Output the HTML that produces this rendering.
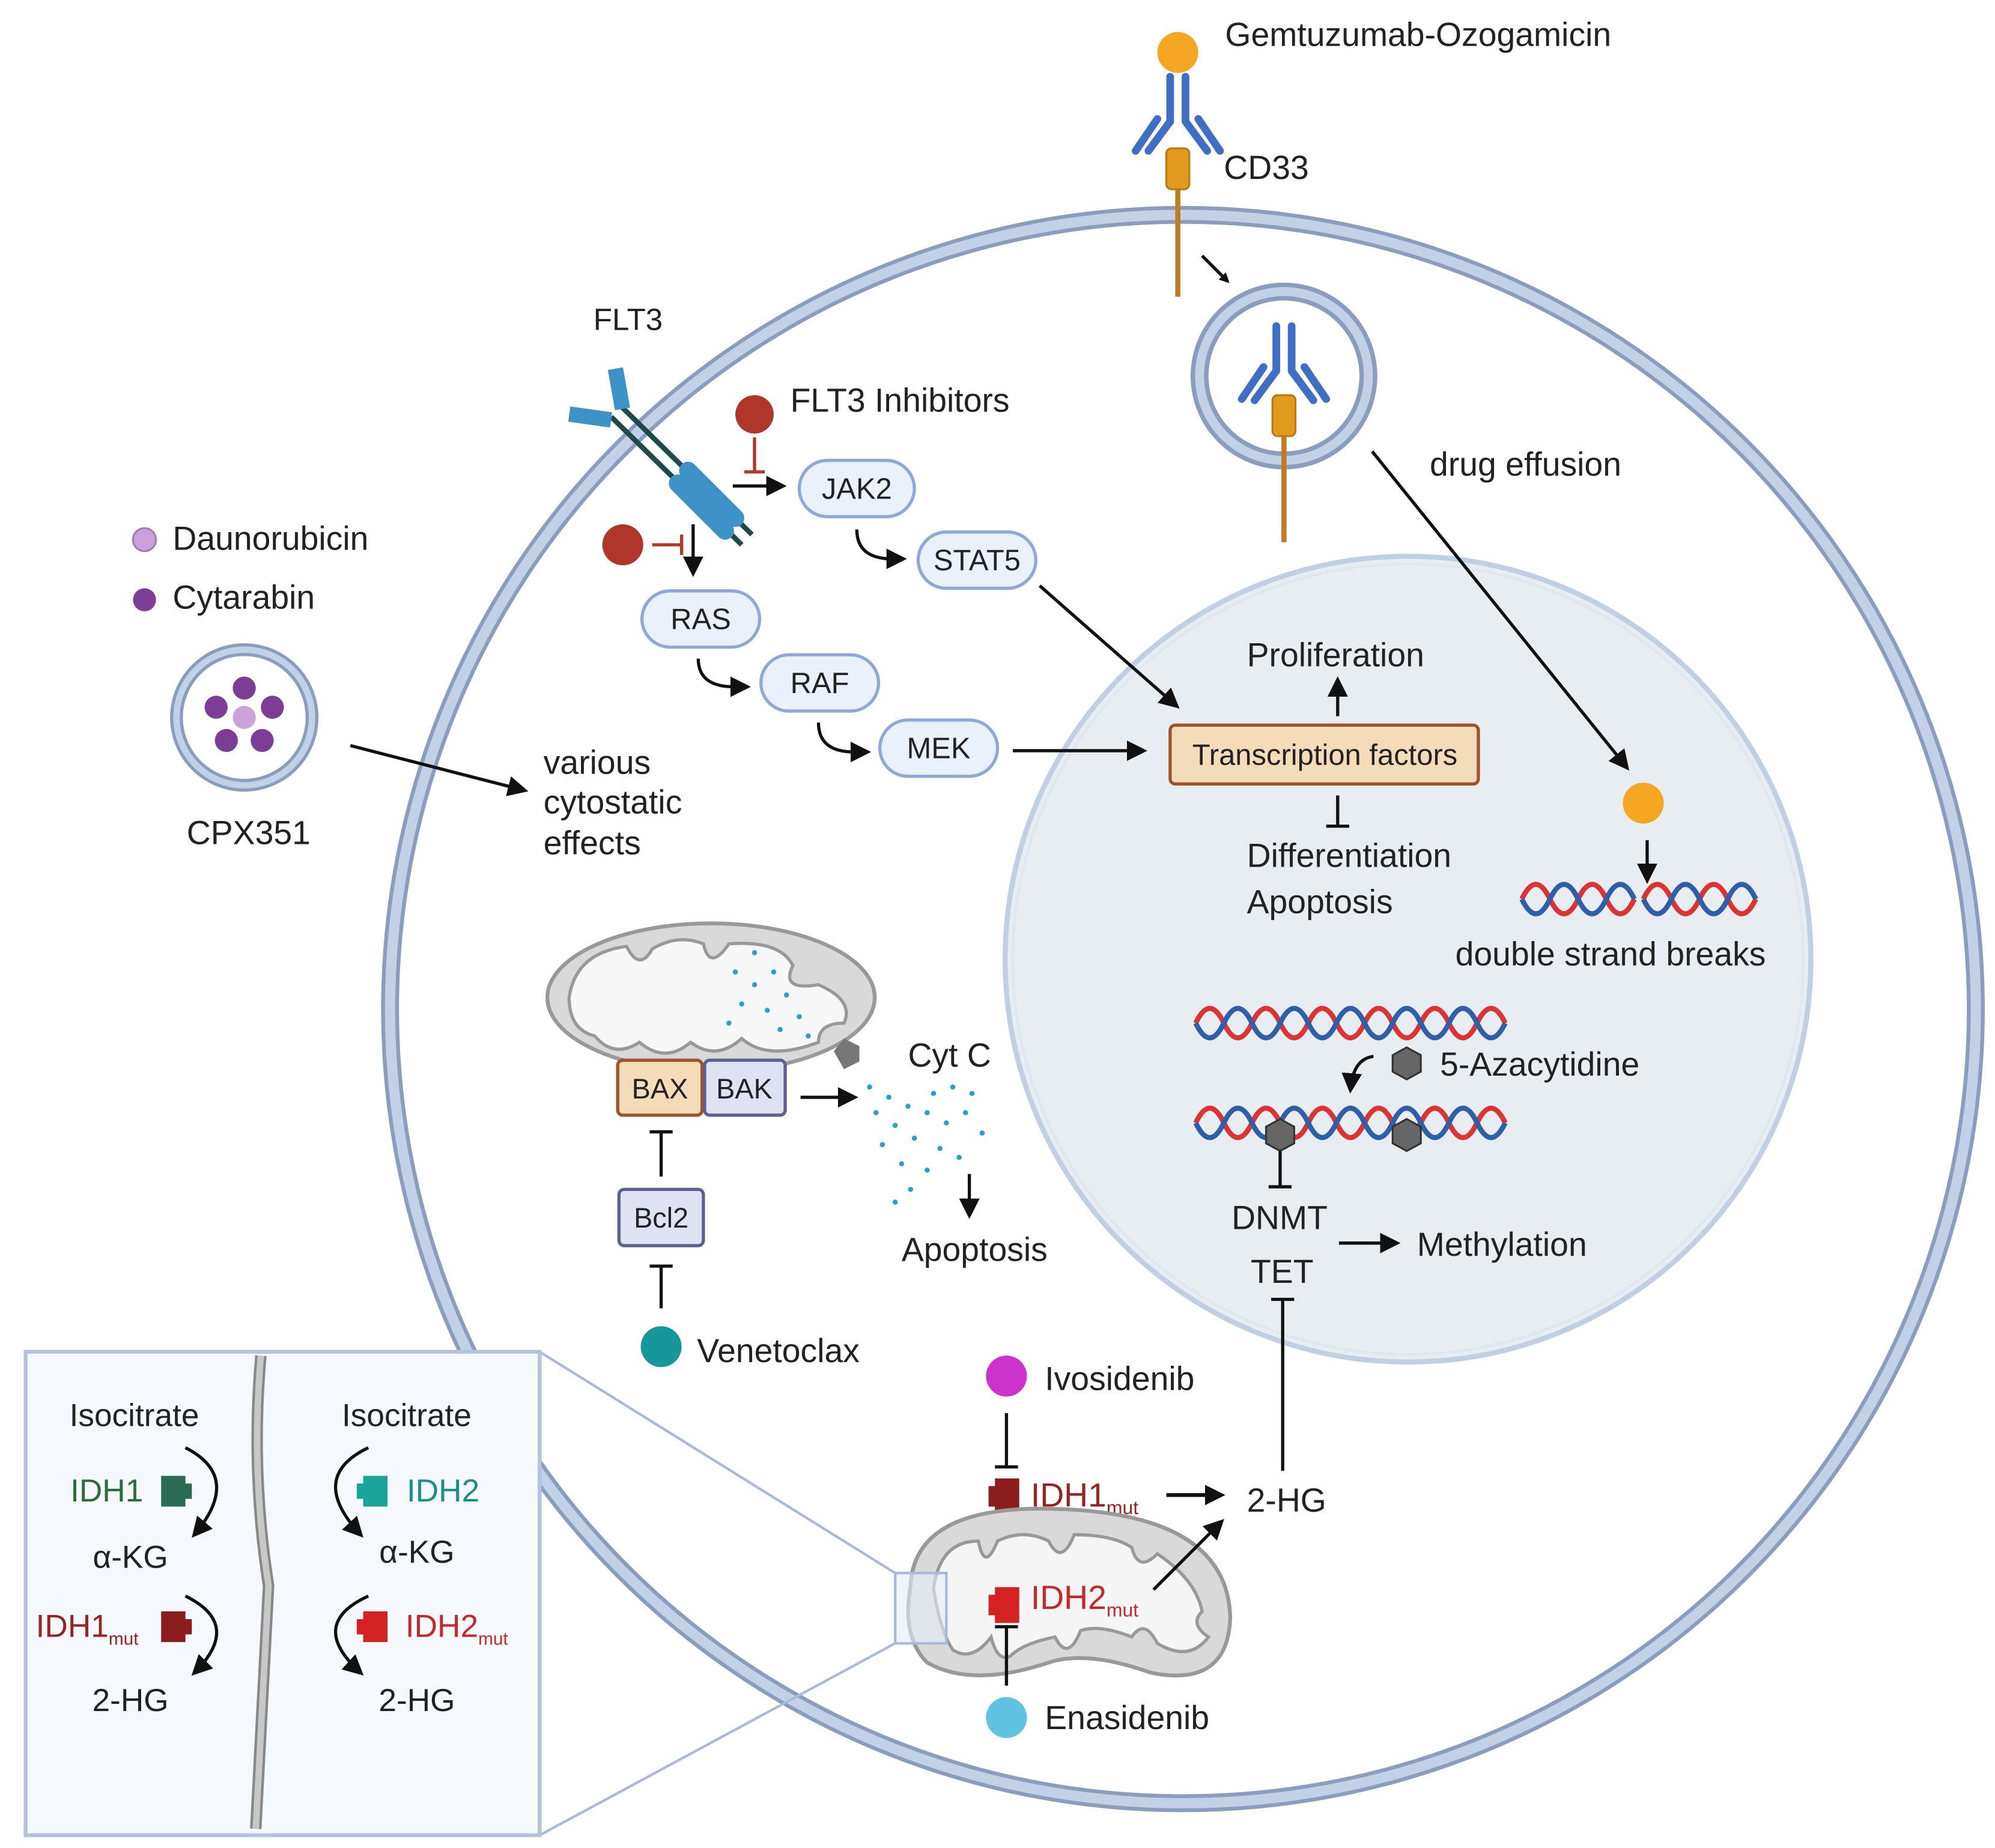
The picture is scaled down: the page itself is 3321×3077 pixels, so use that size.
<!DOCTYPE html>
<html><head><meta charset="utf-8"><style>
html,body{margin:0;padding:0;background:#fff;}
svg{display:block;}
text{font-family:"Liberation Sans",sans-serif;fill:#222;}
</style></head><body>
<svg width="3321" height="3077" viewBox="0 0 1560 1445" preserveAspectRatio="none" xmlns="http://www.w3.org/2000/svg">
<defs>
<marker id="ah" markerWidth="8" markerHeight="8" refX="6" refY="4" orient="auto" markerUnits="userSpaceOnUse"><path d="M0,0 L8,4 L0,8 Z" fill="#111"/></marker>
<marker id="a2" viewBox="0 0 10 10" markerWidth="16" markerHeight="16" refX="8" refY="5" orient="auto" markerUnits="userSpaceOnUse"><path d="M0,0 L10,5 L0,10 Z" fill="#111"/></marker>
</defs>
<ellipse cx="925" cy="789" rx="620" ry="621" fill="#fff" stroke="#8a9dbd" stroke-width="14"/>
<ellipse cx="925" cy="789" rx="620" ry="621" fill="none" stroke="#c3d1e6" stroke-width="8"/>
<circle cx="1101" cy="750" r="315" fill="#e8edf2" stroke="#c0d0e2" stroke-width="4"/>
<circle cx="1101" cy="750" r="309" fill="none" stroke="#dfe7f0" stroke-width="2"/>

<circle cx="921" cy="41" r="16" fill="#f5a623"/>
<g stroke="#3e6fc4" stroke-width="6" stroke-linecap="round" fill="none">
<line x1="915" y1="60" x2="915" y2="95"/><line x1="927" y1="60" x2="927" y2="95"/>
<line x1="915" y1="95" x2="898" y2="118"/><line x1="927" y1="95" x2="944" y2="118"/>
<line x1="905" y1="93" x2="888" y2="118"/><line x1="937" y1="93" x2="954" y2="118"/>
</g>
<rect x="912" y="116" width="18" height="32" rx="4" fill="#e19a1c" stroke="#b97a10" stroke-width="1.5"/>
<line x1="921" y1="148" x2="921" y2="232" stroke="#c07a22" stroke-width="4"/>
<text x="958" y="36" font-size="26">Gemtuzumab-Ozogamicin</text>
<text x="957" y="140" font-size="26">CD33</text>
<line x1="940" y1="200" x2="960" y2="220" stroke="#111" stroke-width="2.5" marker-end="url(#ah)"/>
<circle cx="1004" cy="294" r="66" fill="#fff" stroke="#8a9dbd" stroke-width="14"/>
<circle cx="1004" cy="294" r="66" fill="none" stroke="#c3d1e6" stroke-width="7"/>
<g stroke="#3e6fc4" stroke-width="6" stroke-linecap="round" fill="none">
<line x1="998" y1="255" x2="998" y2="290"/><line x1="1010" y1="255" x2="1010" y2="290"/>
<line x1="998" y1="290" x2="981" y2="313"/><line x1="1010" y1="290" x2="1027" y2="313"/>
<line x1="988" y1="287" x2="971" y2="312"/><line x1="1020" y1="287" x2="1037" y2="312"/>
</g>
<rect x="995" y="309" width="18" height="32" rx="4" fill="#e19a1c" stroke="#b97a10" stroke-width="1.5"/>
<line x1="1004" y1="341" x2="1004" y2="424" stroke="#c07a22" stroke-width="4"/>
<text x="1118" y="372" font-size="26">drug effusion</text>
<line x1="1073" y1="353" x2="1272" y2="600" stroke="#111" stroke-width="2.5" marker-end="url(#a2)"/>
<circle cx="1285" cy="628" r="16" fill="#f5a623"/>
<line x1="1288" y1="657" x2="1288" y2="688" stroke="#111" stroke-width="2.5" marker-end="url(#a2)"/>
<path d="M1190 703 Q1201 680 1212 703 T1234 703 T1256 703 T1278 703" fill="none" stroke="#d33" stroke-width="4"/>
<path d="M1190 703 Q1201 726 1212 703 T1234 703 T1256 703 T1278 703" fill="none" stroke="#2f5fa8" stroke-width="4"/>
<path d="M1285 703 Q1296 680 1307 703 T1329 703 T1351 703 T1373 703" fill="none" stroke="#d33" stroke-width="4"/>
<path d="M1285 703 Q1296 726 1307 703 T1329 703 T1351 703 T1373 703" fill="none" stroke="#2f5fa8" stroke-width="4"/>
<text x="1138" y="755" font-size="26">double strand breaks</text>

<text x="464" y="258" font-size="24">FLT3</text>
<g stroke-linecap="butt">
<line x1="486" y1="318" x2="588" y2="418" stroke="#1e4a4a" stroke-width="4"/>
<line x1="478" y1="326" x2="580" y2="426" stroke="#1e4a4a" stroke-width="4"/>
<line x1="538" y1="368" x2="575" y2="405" stroke="#3d93c7" stroke-width="14" stroke-linecap="round"/>
<line x1="530" y1="378" x2="567" y2="415" stroke="#3d93c7" stroke-width="14" stroke-linecap="round"/>
<rect x="478" y="288" width="12" height="32" fill="#3d93c7" transform="rotate(-10 484 304)"/>
<rect x="445" y="320" width="33" height="12" fill="#3d93c7" transform="rotate(8 461 326)"/>
</g>
<circle cx="590" cy="324" r="15" fill="#b0362c"/>
<text x="618" y="322" font-size="26">FLT3 Inhibitors</text>
<line x1="590" y1="342" x2="590" y2="368" stroke="#b0362c" stroke-width="2.5"/>
<line x1="582" y1="369" x2="598" y2="369" stroke="#b0362c" stroke-width="2.5"/>
<line x1="573" y1="380" x2="612" y2="380" stroke="#111" stroke-width="2.5" marker-end="url(#a2)"/>
<circle cx="487" cy="426" r="16" fill="#b0362c"/>
<line x1="510" y1="426" x2="533" y2="426" stroke="#b0362c" stroke-width="2.5"/>
<line x1="533" y1="418" x2="533" y2="434" stroke="#b0362c" stroke-width="2.5"/>
<line x1="542" y1="410" x2="542" y2="448" stroke="#111" stroke-width="2.5" marker-end="url(#a2)"/>
<g fill="#eaf1fb" stroke="#8fa8d8" stroke-width="2.5">
<rect x="625" y="360" width="90" height="44" rx="22"/>
<rect x="718" y="416" width="92" height="44" rx="22"/>
<rect x="502" y="462" width="92" height="44" rx="22"/>
<rect x="595" y="512" width="92" height="44" rx="22"/>
<rect x="688" y="563" width="92" height="44" rx="22"/>
</g>
<g font-size="23" text-anchor="middle">
<text x="670" y="390">JAK2</text><text x="764" y="446">STAT5</text><text x="548" y="492">RAS</text>
<text x="641" y="542">RAF</text><text x="734" y="593">MEK</text>
</g>
<g fill="none" stroke="#111" stroke-width="2.5">
<path d="M670 414 Q670 437 698 437 L706 437" marker-end="url(#a2)"/>
<path d="M546 515 Q546 537 574 537 L584 537" marker-end="url(#a2)"/>
<path d="M640 565 Q640 588 668 588 L678 588" marker-end="url(#a2)"/>
<line x1="813" y1="458" x2="920" y2="552" marker-end="url(#a2)"/>
<line x1="792" y1="587" x2="894" y2="587" marker-end="url(#a2)"/>
<line x1="1046" y1="560" x2="1046" y2="532" marker-end="url(#a2)"/>
<line x1="1046" y1="622" x2="1046" y2="645"/>
<line x1="1037" y1="646" x2="1055" y2="646"/>
</g>
<rect x="915" y="567" width="241" height="46" rx="4" fill="#f5dcb8" stroke="#a0522d" stroke-width="2.5"/>
<text x="1036" y="598" font-size="23" text-anchor="middle">Transcription factors</text>
<text x="975" y="521" font-size="26">Proliferation</text>
<text x="975" y="678" font-size="26">Differentiation</text>
<text x="975" y="714" font-size="26">Apoptosis</text>

<circle cx="113" cy="422" r="9" fill="#c8a2d8" stroke="#a57bbd" stroke-width="1.5"/>
<circle cx="113" cy="469" r="9" fill="#7b3d96"/>
<text x="135" y="430" font-size="26">Daunorubicin</text>
<text x="135" y="476" font-size="26">Cytarabin</text>
<circle cx="191" cy="561" r="53" fill="#fff" stroke="#8a9dbd" stroke-width="10"/>
<circle cx="191" cy="561" r="53" fill="none" stroke="#c3d1e6" stroke-width="5"/>
<g fill="#7b3d96">
<circle cx="191" cy="538" r="9"/><circle cx="169" cy="553" r="9"/><circle cx="213" cy="553" r="9"/>
<circle cx="177" cy="579" r="9"/><circle cx="205" cy="579" r="9"/></g>
<circle cx="191" cy="561" r="9" fill="#c8a2d8"/>
<text x="146" y="660" font-size="26">CPX351</text>
<line x1="274" y1="583" x2="410" y2="618" stroke="#111" stroke-width="2.5" marker-end="url(#a2)"/>
<text x="425" y="605" font-size="26">various</text>
<text x="425" y="636" font-size="26">cytostatic</text>
<text x="425" y="668" font-size="26">effects</text>

<ellipse cx="556" cy="780" rx="128" ry="58" fill="#d9d9d9" stroke="#999" stroke-width="3"/>
<path d="M445 780 Q450 745 490 740 Q500 760 510 742 Q530 730 550 738 Q555 760 570 738 Q610 735 620 755 Q610 775 640 770 Q668 782 660 800 Q640 800 640 815 Q600 830 580 812 Q560 830 540 815 Q520 832 500 815 Q480 828 465 810 Q445 805 445 780Z" fill="#f7f7f7" stroke="#999" stroke-width="2.5"/>
<g fill="#2a9ed0">
<circle cx="575" cy="760" r="2"/><circle cx="590" cy="770" r="2"/><circle cx="605" cy="760" r="2"/><circle cx="580" cy="785" r="2"/><circle cx="600" cy="790" r="2"/><circle cx="615" cy="778" r="2"/><circle cx="625" cy="795" r="2"/><circle cx="570" cy="800" r="2"/><circle cx="610" cy="805" r="2"/><circle cx="590" cy="745" r="2"/><circle cx="632" cy="810" r="2"/>
</g>
<path d="M652 822 L660 812 L672 818 L672 830 L660 836 Z" fill="#777"/>
<rect x="483" y="829" width="66" height="43" rx="4" fill="#f5dcb8" stroke="#a0522d" stroke-width="2.5"/>
<rect x="551" y="829" width="63" height="43" rx="4" fill="#dfe2f3" stroke="#5c6190" stroke-width="2.5"/>
<text x="516" y="859" font-size="22" text-anchor="middle">BAX</text>
<text x="582" y="859" font-size="22" text-anchor="middle">BAK</text>
<text x="710" y="834" font-size="26">Cyt C</text>
<line x1="626" y1="858" x2="668" y2="858" stroke="#111" stroke-width="2.5" marker-end="url(#a2)"/>
<g fill="#2a9ed0">
<circle cx="680" cy="850" r="2"/><circle cx="695" cy="858" r="2"/><circle cx="710" cy="865" r="2"/><circle cx="725" cy="870" r="2"/><circle cx="740" cy="878" r="2"/><circle cx="755" cy="870" r="2"/><circle cx="768" cy="886" r="2"/><circle cx="700" cy="880" r="2"/><circle cx="715" cy="890" r="2"/><circle cx="735" cy="898" r="2"/><circle cx="750" cy="905" r="2"/><circle cx="690" cy="895" r="2"/><circle cx="705" cy="910" r="2"/><circle cx="725" cy="915" r="2"/><circle cx="712" cy="930" r="2"/><circle cx="700" cy="940" r="2"/><circle cx="760" cy="855" r="2"/><circle cx="745" cy="850" r="2"/><circle cx="685" cy="870" r="2"/><circle cx="730" cy="855" r="2"/>
</g>
<line x1="758" y1="918" x2="758" y2="950" stroke="#111" stroke-width="2.5" marker-end="url(#a2)"/>
<text x="705" y="986" font-size="26">Apoptosis</text>
<rect x="484" y="930" width="66" height="44" rx="4" fill="#dfe2f3" stroke="#5c6190" stroke-width="2.5"/>
<text x="517" y="960" font-size="22" text-anchor="middle">Bcl2</text>
<g stroke="#111" stroke-width="2.5">
<line x1="517" y1="920" x2="517" y2="885"/><line x1="508" y1="885" x2="526" y2="885"/>
<line x1="517" y1="1023" x2="517" y2="990"/><line x1="508" y1="990" x2="526" y2="990"/>
</g>
<circle cx="517" cy="1053" r="16" fill="#17979c"/>
<text x="545" y="1065" font-size="26">Venetoclax</text>

<path d="M935 800 Q946 777 957 800 T979 800 T1001 800 T1023 800 T1045 800 T1067 800 T1089 800 T1111 800 T1133 800 T1155 800 T1177 800" fill="none" stroke="#d33" stroke-width="4"/>
<path d="M935 800 Q946 823 957 800 T979 800 T1001 800 T1023 800 T1045 800 T1067 800 T1089 800 T1111 800 T1133 800 T1155 800 T1177 800" fill="none" stroke="#2f5fa8" stroke-width="4"/>
<path d="M935 878 Q946 855 957 878 T979 878 T1001 878 T1023 878 T1045 878 T1067 878 T1089 878 T1111 878 T1133 878 T1155 878 T1177 878" fill="none" stroke="#d33" stroke-width="4"/>
<path d="M935 878 Q946 901 957 878 T979 878 T1001 878 T1023 878 T1045 878 T1067 878 T1089 878 T1111 878 T1133 878 T1155 878 T1177 878" fill="none" stroke="#2f5fa8" stroke-width="4"/>
<g fill="#666" stroke="#333" stroke-width="1.5">
<polygon points="1100,819 1111,825 1111,838 1100,844 1089,838 1089,825"/>
<polygon points="1001,875 1012,881 1012,894 1001,900 990,894 990,881"/>
<polygon points="1100,875 1111,881 1111,894 1100,900 1089,894 1089,881"/>
</g>
<text x="1126" y="841" font-size="26">5-Azacytidine</text>
<path d="M1074 826 Q1058 828 1056 852" fill="none" stroke="#111" stroke-width="2.5" marker-end="url(#a2)"/>
<g stroke="#111" stroke-width="2.5">
<line x1="1001" y1="900" x2="1001" y2="928"/><line x1="992" y1="928" x2="1010" y2="928"/>
<line x1="1047" y1="972" x2="1092" y2="972" marker-end="url(#a2)"/>
<line x1="1003" y1="1150" x2="1003" y2="1016"/><line x1="994" y1="1016" x2="1012" y2="1016"/>
</g>
<text x="963" y="961" font-size="26">DNMT</text>
<text x="978" y="1003" font-size="26">TET</text>
<text x="1108" y="982" font-size="26">Methylation</text>

<circle cx="787" cy="1076" r="16" fill="#cc33cc"/>
<text x="817" y="1087" font-size="26">Ivosidenib</text>
<g stroke="#111" stroke-width="2.5">
<line x1="787" y1="1105" x2="787" y2="1146"/><line x1="778" y1="1147" x2="796" y2="1147"/>
</g>
<path d="M773 1162 h5 v-6 h19 v28 h-19 v-6 h-5z" fill="#8b1d1d"/>
<text x="806" y="1178" font-size="26" style="fill:#9b2222">IDH1<tspan font-size="15" dy="6">mut</tspan></text>
<line x1="912" y1="1169" x2="955" y2="1169" stroke="#111" stroke-width="3" marker-end="url(#a2)"/>
<text x="975" y="1182" font-size="26">2-HG</text>
<path d="M712 1240 Q715 1175 830 1180 Q960 1185 962 1265 Q960 1320 900 1308 Q850 1290 820 1300 Q760 1320 725 1300 Q705 1280 712 1240Z" fill="#d9d9d9" stroke="#999" stroke-width="3"/>
<path d="M730 1242 Q735 1205 765 1205 Q770 1230 780 1205 Q800 1195 820 1205 Q830 1225 840 1200 Q870 1200 885 1210 Q890 1230 905 1215 Q935 1235 940 1260 Q930 1270 945 1280 Q930 1300 905 1285 Q895 1265 885 1280 Q860 1270 845 1275 Q835 1300 825 1280 Q800 1285 790 1295 Q780 1300 775 1280 Q760 1300 745 1290 Q735 1275 730 1242Z" fill="#f5f5f5" stroke="#999" stroke-width="2.5"/>
<path d="M773 1247 h5 v-6 h19 v28 h-19 v-6 h-5z" fill="#d42222"/>
<text x="806" y="1258" font-size="26" style="fill:#c62828">IDH2<tspan font-size="15" dy="6">mut</tspan></text>
<line x1="902" y1="1243" x2="955" y2="1190" stroke="#111" stroke-width="2.5" marker-end="url(#a2)"/>
<g stroke="#111" stroke-width="2.5">
<line x1="787" y1="1318" x2="787" y2="1272"/><line x1="778" y1="1272" x2="796" y2="1272"/>
</g>
<circle cx="787" cy="1343" r="16" fill="#5fc4e2"/>
<text x="817" y="1352" font-size="26">Enasidenib</text>

<rect x="700" y="1230" width="40" height="55" fill="#e6edf8" fill-opacity="0.6" stroke="#a9b9d8" stroke-width="2"/>
<line x1="422" y1="1057" x2="700" y2="1230" stroke="#a9b9d8" stroke-width="2"/>
<line x1="422" y1="1435" x2="700" y2="1285" stroke="#a9b9d8" stroke-width="2"/>
<rect x="20" y="1057" width="402" height="378" fill="#f5f8fd" stroke="#b4c2dc" stroke-width="3"/>
<path d="M204 1060 Q196 1150 210 1240 Q205 1340 200 1430" fill="none" stroke="#888" stroke-width="9"/>
<path d="M204 1060 Q196 1150 210 1240 Q205 1340 200 1430" fill="none" stroke="#c8c8c8" stroke-width="5"/>
<text x="105" y="1115" font-size="25" text-anchor="middle">Isocitrate</text>
<text x="318" y="1115" font-size="25" text-anchor="middle">Isocitrate</text>
<text x="55" y="1174" font-size="25" style="fill:#2e6b3a">IDH1</text>
<path d="M126 1154 h19 v6 h5 v12 h-5 v6 h-19z" fill="#2a6b53"/>
<text x="318" y="1174" font-size="25" style="fill:#1a8f8a">IDH2</text>
<path d="M303 1154 h-19 v6 h-5 v12 h5 v6 h19z" fill="#1aa39a"/>
<text x="102" y="1226" font-size="25" text-anchor="middle">α-KG</text>
<text x="326" y="1222" font-size="25" text-anchor="middle">α-KG</text>
<text x="28" y="1280" font-size="25" style="fill:#9b2222">IDH1<tspan font-size="14" dy="6">mut</tspan></text>
<path d="M126 1260 h19 v6 h5 v12 h-5 v6 h-19z" fill="#8b1d1d"/>
<text x="317" y="1280" font-size="25" style="fill:#c62828">IDH2<tspan font-size="14" dy="6">mut</tspan></text>
<path d="M303 1260 h-19 v6 h-5 v12 h5 v6 h19z" fill="#d42222"/>
<text x="102" y="1338" font-size="25" text-anchor="middle">2-HG</text>
<text x="326" y="1338" font-size="25" text-anchor="middle">2-HG</text>
<g fill="none" stroke="#111" stroke-width="2.5">
<path d="M145 1132 Q190 1155 152 1200" marker-end="url(#a2)"/>
<path d="M145 1248 Q190 1270 152 1308" marker-end="url(#a2)"/>
<path d="M288 1132 Q240 1155 282 1200" marker-end="url(#a2)"/>
<path d="M288 1248 Q240 1270 282 1308" marker-end="url(#a2)"/>
</g>
</svg>
</body></html>
